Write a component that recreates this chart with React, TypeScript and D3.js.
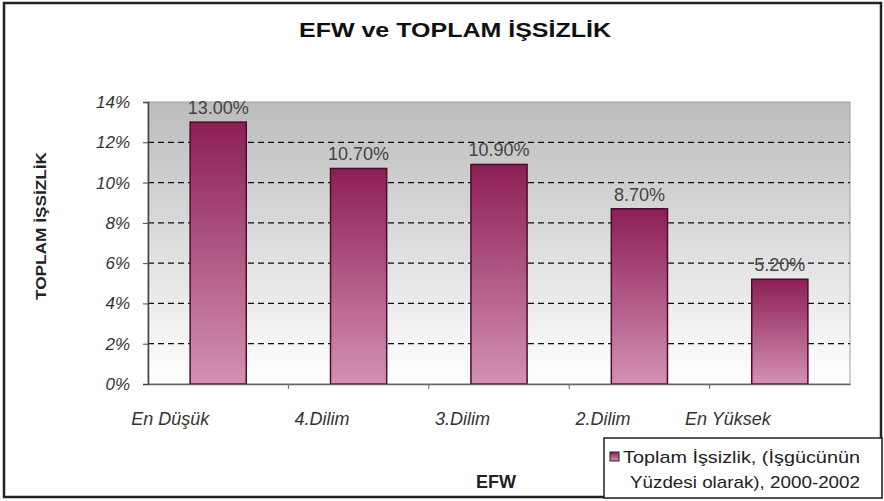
import React, { useEffect, useRef } from 'react';
import * as d3 from 'd3';

const categories = ['En Düşük', '4.Dilim', '3.Dilim', '2.Dilim', 'En Yüksek'];
const values = [13.0, 10.7, 10.9, 8.7, 5.2];
const yTicks = [0, 2, 4, 6, 8, 10, 12, 14];
const legendLines = ['Toplam İşsizlik, (İşgücünün', 'Yüzdesi olarak), 2000-2002'];

const W = 884;
const H = 501;
const FONT = '"Liberation Sans", Arial, sans-serif';

const App = () => {
  const ref = useRef<SVGSVGElement>(null);

  useEffect(() => {
    const root = d3.select(ref.current);
    root.selectAll('*').remove();

    const plot = { left: 148, right: 850, top: 102, bottom: 384 };

    const defs = root.append('defs');
    const bg = defs.append('linearGradient').attr('id', 'bgGrad')
      .attr('x1', 0).attr('y1', 0).attr('x2', 0).attr('y2', 1);
    bg.append('stop').attr('offset', '0%').attr('stop-color', '#bcbcbc');
    bg.append('stop').attr('offset', '100%').attr('stop-color', '#ffffff');

    const barG = defs.append('linearGradient').attr('id', 'barGrad')
      .attr('x1', 0).attr('y1', 0).attr('x2', 0).attr('y2', 1);
    barG.append('stop').attr('offset', '0%').attr('stop-color', '#8c1f55');
    barG.append('stop').attr('offset', '100%').attr('stop-color', '#d391b4');

    // page background + outer frame
    root.append('rect').attr('x', 0).attr('y', 0).attr('width', W).attr('height', H).attr('fill', '#fff');
    root.append('rect').attr('x', 4).attr('y', 3).attr('width', 877).attr('height', 494)
      .attr('fill', 'none').attr('stroke', '#222').attr('stroke-width', 2.5);

    root.append('text').attr('x', 455).attr('y', 37).attr('text-anchor', 'middle')
      .attr('font-family', FONT).attr('font-weight', 'bold').attr('font-size', 21).attr('fill', '#111')
      .attr('textLength', 312).attr('lengthAdjust', 'spacingAndGlyphs')
      .text('EFW ve TOPLAM İŞSİZLİK');

    const x = d3.scaleBand().domain(categories).range([plot.left, plot.right]).paddingInner(0.6).paddingOuter(0.3);
    const xb = d3.scaleBand().domain(categories).range([plot.left, plot.right]);
    const y = d3.scaleLinear().domain([0, 14]).range([plot.bottom, plot.top]);

    root.append('rect').attr('x', plot.left).attr('y', plot.top)
      .attr('width', plot.right - plot.left).attr('height', plot.bottom - plot.top)
      .attr('fill', 'url(#bgGrad)').attr('stroke', '#a0a0a0').attr('stroke-width', 1);

    // dashed grid
    root.append('g').selectAll('line').data(yTicks.filter(t => t > 0 && t < 14)).enter().append('line')
      .attr('x1', plot.left).attr('x2', plot.right)
      .attr('y1', d => y(d)).attr('y2', d => y(d))
      .attr('stroke', '#111').attr('stroke-width', 1.3).attr('stroke-dasharray', '6,4');

    // bars
    root.append('g').selectAll('rect').data(values).enter().append('rect')
      .attr('x', (d, i) => x(categories[i])!)
      .attr('y', d => y(d))
      .attr('width', x.bandwidth())
      .attr('height', d => plot.bottom - y(d))
      .attr('fill', 'url(#barGrad)').attr('stroke', '#4a0d2a').attr('stroke-width', 1.5);

    // value labels
    root.append('g').selectAll('text').data(values).enter().append('text')
      .attr('x', (d, i) => x(categories[i])! + x.bandwidth() / 2)
      .attr('y', d => y(d) - 8)
      .attr('text-anchor', 'middle').attr('font-family', FONT).attr('font-size', 18).attr('fill', '#444')
      .text(d => d.toFixed(2) + '%');

    // y axis
    const yAxis = root.append('g').attr('transform', `translate(${plot.left},0)`)
      .call(d3.axisLeft(y).tickValues(yTicks).tickSize(5).tickPadding(13).tickFormat(d => `${d}%`));
    yAxis.select('.domain').attr('stroke', '#444').attr('stroke-width', 1.5);
    yAxis.selectAll('.tick line').attr('stroke', '#444');
    yAxis.selectAll('text').attr('font-family', FONT).attr('font-size', 17)
      .attr('font-style', 'italic').attr('fill', '#333');

    // x axis
    const xAxis = root.append('g').attr('transform', `translate(0,${plot.bottom})`)
      .call(d3.axisBottom(xb).tickSize(0).tickFormat(() => ''));
    xAxis.select('.domain').attr('stroke', '#666').attr('stroke-width', 1.5);
    root.append('g').selectAll('line').data(categories.slice(1)).enter().append('line')
      .attr('x1', d => xb(d)!).attr('x2', d => xb(d)!)
      .attr('y1', plot.bottom).attr('y2', plot.bottom + 5).attr('stroke', '#666');

    root.append('g').selectAll('text').data(categories).enter().append('text')
      .attr('x', d => xb(d)! + xb.bandwidth() / 2 - 9)
      .attr('y', 425)
      .attr('text-anchor', 'end').attr('font-family', FONT).attr('font-size', 18)
      .attr('font-style', 'italic').attr('fill', '#333')
      .text(d => d);

    // axis titles
    root.append('text').attr('x', 496).attr('y', 488).attr('text-anchor', 'middle')
      .attr('font-family', FONT).attr('font-weight', 'bold').attr('font-size', 18).attr('fill', '#222')
      .text('EFW');
    root.append('text').attr('transform', 'translate(46,226) rotate(-90)').attr('text-anchor', 'middle')
      .attr('font-family', FONT).attr('font-weight', 'bold').attr('font-size', 15).attr('fill', '#222')
      .attr('textLength', 148).attr('lengthAdjust', 'spacingAndGlyphs')
      .text('TOPLAM İŞSİZLİK');

    // legend
    const lg = root.append('g');
    lg.append('rect').attr('x', 604).attr('y', 438).attr('width', 278).attr('height', 60)
      .attr('fill', '#fff').attr('stroke', '#222').attr('stroke-width', 1.5);
    lg.append('rect').attr('x', 610).attr('y', 452).attr('width', 9).attr('height', 9)
      .attr('fill', 'url(#barGrad)').attr('stroke', '#222').attr('stroke-width', 1);
    lg.selectAll('text.l').data(legendLines).enter().append('text')
      .attr('x', (d, i) => (i === 0 ? 623 : 630)).attr('y', (d, i) => 463 + i * 25)
      .attr('font-family', FONT).attr('font-size', 17).attr('fill', '#222')
      .attr('textLength', (d, i) => (i === 0 ? 237 : 230)).attr('lengthAdjust', 'spacingAndGlyphs')
      .text(d => d);
  }, []);

  return (
    <svg ref={ref} width={W} height={H} style={{ position: 'absolute', left: 0, top: 0 }} />
  );
};

export default App;
